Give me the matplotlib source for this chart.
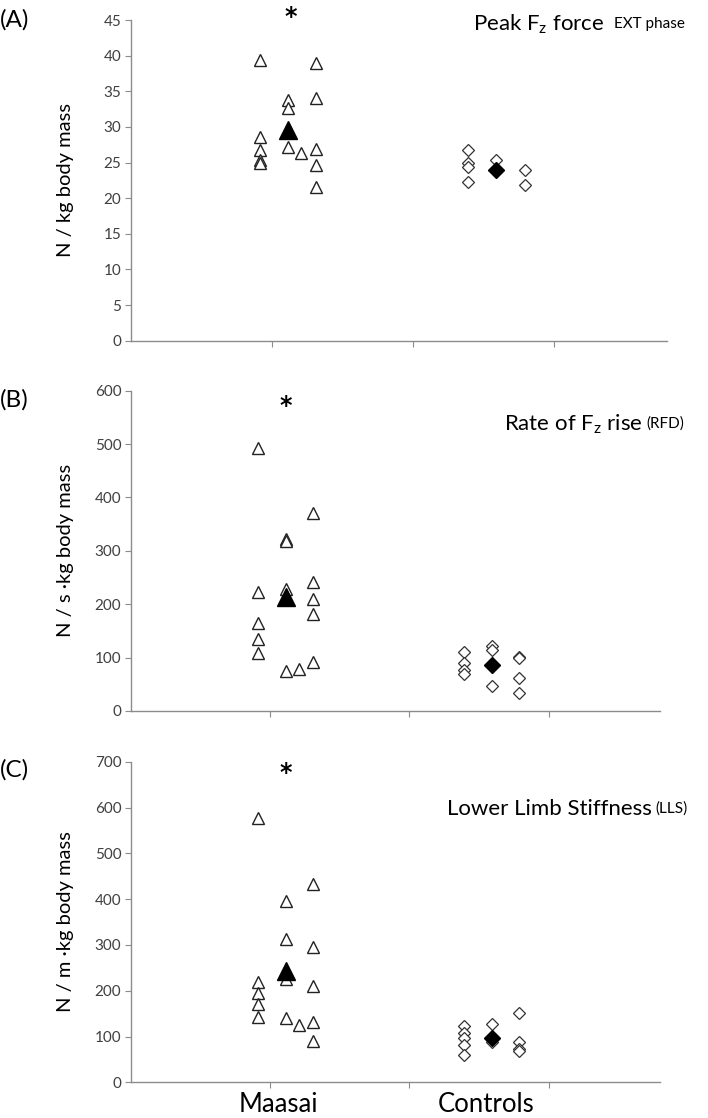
import matplotlib
matplotlib.use('Agg')
import matplotlib.pyplot as plt
import matplotlib.transforms as mtransforms

# шрифт: Lato похож на Calibri
plt.rcParams['font.family'] = ['Lato', 'DejaVu Sans']
plt.rcParams['mathtext.fontset'] = 'custom'
plt.rcParams['mathtext.rm'] = 'Lato'

# позиции столбиков точек внутри группы
maasai_cols = [0.915, 1.11, 1.205, 1.31]
control_cols = [2.39, 2.59, 2.79]
maasai_mean_col = 1.11
control_mean_col = 2.59
group_names = ['Maasai', 'Controls']
group_label_x = [1.06, 2.55]

# (A) пиковая сила
peak_maasai = [[39.4, 28.6, 26.8, 25.3, 25.0], [33.8, 32.6, 27.2], [26.4], [38.9, 34.1, 26.9, 24.6, 21.6]]
peak_maasai_mean = 29.6
peak_ctrl = [[26.8, 24.9, 24.4, 22.2], [25.4], [24.0, 21.9]]
peak_ctrl_mean = 23.9

# (B) скорость нарастания силы
rfd_maasai = [[493, 222, 164, 134, 109], [322, 319, 228, 75], [78], [370, 241, 209, 182, 91]]
rfd_maasai_mean = 214
rfd_ctrl = [[110, 89, 77, 69], [122, 114, 46], [101, 100, 61, 33]]
rfd_ctrl_mean = 87

# (C) жёсткость нижней конечности
lls_maasai = [[576, 218, 196, 171, 143], [395, 312, 226, 140], [125], [433, 295, 211, 131, 90]]
lls_maasai_mean = 242
lls_ctrl = [[123, 107, 96, 81, 60], [127, 89], [151, 89, 72, 69]]
lls_ctrl_mean = 96

W, H = 708, 1118
fig = plt.figure(figsize=(W / 100, H / 100), dpi=100)


def px_axes(x0, y0, x1, y1):
    return fig.add_axes([x0 / W, 1 - y1 / H, (x1 - x0) / W, (y1 - y0) / H])


panels = [
    dict(box=(131, 20, 667, 340.7), ymax=45, step=5, m=peak_maasai, mm=peak_maasai_mean,
         c=peak_ctrl, cm=peak_ctrl_mean, tag='(A)', tag_y=20,
         ylabel='N / kg body mass', star=(291, 17),
         title='Peak F$_\\mathregular{z}$ force', small='EXT phase', title_x=604, title_y=24, small_x=614),
    dict(box=(131, 390.7, 660, 711), ymax=600, step=100, m=rfd_maasai, mm=rfd_maasai_mean,
         c=rfd_ctrl, cm=rfd_ctrl_mean, tag='(B)', tag_y=400,
         ylabel='N / s ·kg body mass', star=(286, 406),
         title='Rate of F$_\\mathregular{z}$ rise', small='(RFD)', title_x=643, title_y=424, small_x=646),
    dict(box=(131, 761.7, 660, 1082.3), ymax=700, step=100, m=lls_maasai, mm=lls_maasai_mean,
         c=lls_ctrl, cm=lls_ctrl_mean, tag='(C)', tag_y=770,
         ylabel='N / m ·kg body mass', star=(286, 773),
         title='Lower Limb Stiffness', small='(LLS)', title_x=652, title_y=809, small_x=655),
]

for i, p in enumerate(panels):
    ax = px_axes(*p['box'])
    # открытые треугольники (масаи)
    for x, vals in zip(maasai_cols, p['m']):
        ax.plot([x] * len(vals), vals, linestyle='none', marker='^', markersize=9,
                markerfacecolor='white', markeredgecolor='#222222', markeredgewidth=1.0)
    ax.plot([maasai_mean_col], [p['mm']], linestyle='none', marker='^', markersize=12.5,
            markerfacecolor='black', markeredgecolor='black')
    # открытые ромбы (контроль)
    for x, vals in zip(control_cols, p['c']):
        ax.plot([x] * len(vals), vals, linestyle='none', marker='D', markersize=5.8,
                markerfacecolor='white', markeredgecolor='#333333', markeredgewidth=0.9)
    ax.plot([control_mean_col], [p['cm']], linestyle='none', marker='D', markersize=8.5,
            markerfacecolor='black', markeredgecolor='black')

    ax.set_xlim(0, 3.8)
    ax.set_ylim(0, p['ymax'])
    ax.set_yticks(range(0, p['ymax'] + 1, p['step']))
    ax.set_xticks([1, 2, 3])
    ax.set_xticklabels([])
    for s in ['top', 'right']:
        ax.spines[s].set_visible(False)
    for s in ['left', 'bottom']:
        ax.spines[s].set_color('#8c8c8c')
        ax.spines[s].set_linewidth(1.0)
    ax.tick_params(axis='y', colors='#8c8c8c', labelcolor='#404040', labelsize=11, length=4, pad=3)
    ax.tick_params(axis='x', colors='#8c8c8c', length=4)

    fig.text(0 / W, 1 - p['tag_y'] / H, p['tag'], fontsize=17.5, ha='left', va='center')
    fig.text(65 / W, 1 - (p['box'][1] + p['box'][3]) / 2 / H, p['ylabel'], fontsize=14.5,
             rotation=90, ha='center', va='center')
    fig.text(p['star'][0] / W, 1 - p['star'][1] / H, '*', fontsize=17, fontweight='bold',
             family='DejaVu Sans', ha='center', va='center')
    fig.text(p['title_x'] / W, 1 - p['title_y'] / H, p['title'], fontsize=16,
             ha='right', va='center')
    fig.text(p['small_x'] / W, 1 - p['title_y'] / H, p['small'], fontsize=11,
             ha='left', va='center')

    if i == 2:
        trans = mtransforms.blended_transform_factory(ax.transData, fig.transFigure)
        for gx, name in zip(group_label_x, group_names):
            ax.text(gx, 1 - 1104 / H, name, transform=trans, fontsize=18.5,
                    ha='center', va='center')

fig.savefig('out.png', dpi=100)
